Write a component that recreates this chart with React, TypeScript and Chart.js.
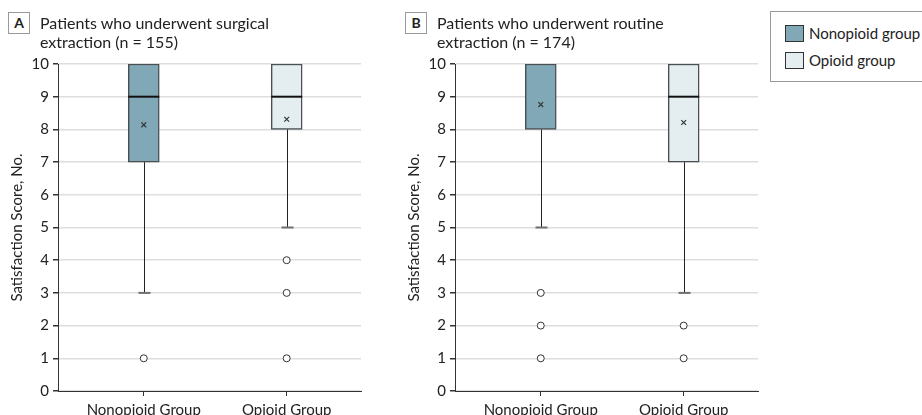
import React, { useEffect, useRef } from "react";
import { Chart, registerables } from "chart.js";

Chart.register(...registerables);

// Category labels and x positions of the two groups
const groups = ["Nonopioid Group", "Opioid Group"];
const groupX = [0, 1];

// Panel A: surgical extraction (n = 155)
const surgicalMin = [3, 5];
const surgicalQ1 = [7, 8];
const surgicalMedian = [9, 9];
const surgicalQ3 = [10, 10];
const surgicalMax = [10, 10];
const surgicalMean = [8.14, 8.31];
const surgicalOutliers = [[1], [4, 3, 1]];

// Panel B: routine extraction (n = 174)
const routineMin = [5, 3];
const routineQ1 = [8, 7];
const routineMedian = [10, 9];
const routineQ3 = [10, 10];
const routineMax = [10, 10];
const routineMean = [8.76, 8.21];
const routineOutliers = [[3, 2, 1], [2, 1]];

const yTicks = [0, 1, 2, 3, 4, 5, 6, 7, 8, 9, 10];

const NONOPIOID_FILL = "#80a8b6";
const OPIOID_FILL = "#e4edf0";
const BOX_BORDER = "#4a4f52";
const FONT = "Lato";

type BoxData = {
  min: number[];
  q1: number[];
  median: number[];
  q3: number[];
  max: number[];
  mean: number[];
  outliers: number[][];
};

const BOX_WIDTH = 31;

function makeConfig(d: BoxData): any {
  const whiskerPlugin = {
    id: "whiskers",
    // whiskers and caps sit behind the boxes
    beforeDatasetsDraw(chart: any) {
      const { ctx, scales } = chart;
      const xs = scales.x;
      const ys = scales.y;
      ctx.save();
      groupX.forEach((gx, i) => {
        const cx = Math.round(xs.getPixelForValue(gx)) + 0.5;
        const segs: [number, number][] = [
          [d.q1[i], d.min[i]],
          [d.q3[i], d.max[i]],
        ];
        segs.forEach(([from, to]) => {
          if (from === to) return;
          const y0 = ys.getPixelForValue(from);
          const y1 = ys.getPixelForValue(to);
          ctx.strokeStyle = "#222";
          ctx.lineWidth = 1;
          ctx.beginPath();
          ctx.moveTo(cx, y0);
          ctx.lineTo(cx, y1);
          ctx.stroke();
          ctx.strokeStyle = "#6f6f6f";
          ctx.lineWidth = 2;
          ctx.beginPath();
          ctx.moveTo(cx - 6, y1);
          ctx.lineTo(cx + 6, y1);
          ctx.stroke();
        });
      });
      ctx.restore();
    },
    // median line drawn over the box, unless it falls on a box edge
    afterDatasetDraw(chart: any, args: any) {
      if (args.index !== 0) return;
      const { ctx, scales } = chart;
      ctx.save();
      ctx.strokeStyle = "#111";
      ctx.lineWidth = 2;
      groupX.forEach((gx, i) => {
        if (d.median[i] === d.q3[i] || d.median[i] === d.q1[i]) return;
        const cx = scales.x.getPixelForValue(gx);
        const y = scales.y.getPixelForValue(d.median[i]);
        ctx.beginPath();
        ctx.moveTo(cx - BOX_WIDTH / 2, y);
        ctx.lineTo(cx + BOX_WIDTH / 2, y);
        ctx.stroke();
      });
      ctx.restore();
    },
  };

  const outlierPoints: { x: number; y: number }[] = [];
  d.outliers.forEach((list, i) => list.forEach((v) => outlierPoints.push({ x: groupX[i], y: v })));

  return {
    type: "bar",
    data: {
      datasets: [
        {
          type: "bar",
          order: 3,
          data: groupX.map((gx, i) => ({ x: gx, y: [d.q1[i], d.q3[i]] })),
          backgroundColor: [NONOPIOID_FILL, OPIOID_FILL],
          borderColor: BOX_BORDER,
          borderWidth: 1.5,
          borderSkipped: false,
          barThickness: BOX_WIDTH,
        },
        {
          type: "scatter",
          order: 1,
          data: groupX.map((gx, i) => ({ x: gx, y: d.mean[i] })),
          pointStyle: "crossRot",
          radius: 3.4,
          borderColor: "#333",
          borderWidth: 1.2,
        },
        {
          type: "scatter",
          order: 2,
          data: outlierPoints,
          pointStyle: "circle",
          radius: 3.5,
          backgroundColor: "#fff",
          borderColor: "#333",
          borderWidth: 1,
        },
      ],
    },
    options: {
      animation: false,
      responsive: false,
      devicePixelRatio: 1,
      events: [],
      layout: { padding: { left: 0, right: 9, top: 64, bottom: 0 } },
      plugins: { legend: { display: false }, tooltip: { enabled: false }, title: { display: false } },
      scales: {
        x: {
          type: "linear",
          offset: false,
          min: -0.6,
          max: 1.52,
          afterBuildTicks(scale: any) {
            scale.ticks = groupX.map((v) => ({ value: v }));
          },
          afterFit(scale: any) {
            scale.height = 24;
          },
          ticks: {
            callback: (v: number) => groups[groupX.indexOf(v)] ?? "",
            color: "#222",
            padding: 5,
            maxRotation: 0,
            autoSkip: false,
            font: { family: FONT, size: 15 },
          },
          grid: { offset: false, drawOnChartArea: false, drawTicks: true, tickLength: 5, tickColor: "#333" },
          border: { display: true, color: "#333", width: 1 },
        },
        y: {
          type: "linear",
          min: 0,
          max: 10,
          afterBuildTicks(scale: any) {
            scale.ticks = yTicks.map((v) => ({ value: v }));
          },
          afterFit(scale: any) {
            scale.width = 58;
          },
          ticks: {
            color: "#222",
            padding: 4,
            font: { family: FONT, size: 15 },
          },
          grid: { color: "#dedede", lineWidth: 1.5, tickColor: "#333", tickLength: 5 },
          border: { display: true, color: "#333", width: 1 },
          title: {
            display: true,
            text: "Satisfaction Score, No.",
            color: "#222",
            font: { family: FONT, size: 15 },
            padding: { top: 8, bottom: 0 },
          },
        },
      },
    },
    plugins: [whiskerPlugin],
  };
}

function Panel({ data, left, letter, line1, line2 }: { data: BoxData; left: number; letter: string; line1: string; line2: string }) {
  const ref = useRef<HTMLCanvasElement>(null);
  useEffect(() => {
    const chart = new Chart(ref.current as HTMLCanvasElement, makeConfig(data));
    return () => chart.destroy();
  }, [data]);
  return (
    <div style={{ position: "absolute", left, top: 0, width: 370, height: 415 }}>
      <canvas ref={ref} width={370} height={415} style={{ position: "absolute", left: 0, top: 0 }} />
      <div
        style={{
          position: "absolute",
          left: 8,
          top: 12,
          width: 20,
          height: 20,
          border: "1px solid #9a9a9a",
          fontFamily: FONT,
          fontWeight: 700,
          fontSize: 14,
          lineHeight: "20px",
          textAlign: "center",
          color: "#222",
          background: "#fff",
        }}
      >
        {letter}
      </div>
      <div
        style={{
          position: "absolute",
          left: 40,
          top: 13,
          fontFamily: FONT,
          fontSize: 16,
          lineHeight: "19px",
          color: "#222",
          whiteSpace: "nowrap",
        }}
      >
        {line1}
        <br />
        {line2}
      </div>
    </div>
  );
}

const surgical: BoxData = {
  min: surgicalMin,
  q1: surgicalQ1,
  median: surgicalMedian,
  q3: surgicalQ3,
  max: surgicalMax,
  mean: surgicalMean,
  outliers: surgicalOutliers,
};

const routine: BoxData = {
  min: routineMin,
  q1: routineQ1,
  median: routineMedian,
  q3: routineQ3,
  max: routineMax,
  mean: routineMean,
  outliers: routineOutliers,
};

function LegendItem({ color, label, top }: { color: string; label: string; top: number }) {
  return (
    <div style={{ position: "absolute", left: 14, top, display: "flex", alignItems: "center" }}>
      <div style={{ width: 17, height: 15, background: color, border: "1px solid #333" }} />
      <span style={{ marginLeft: 5, fontFamily: FONT, fontSize: 15, color: "#222", whiteSpace: "nowrap" }}>{label}</span>
    </div>
  );
}

export default function App() {
  return (
    <div style={{ position: "absolute", left: 0, top: 0, width: 922, height: 415, overflow: "hidden", background: "#fff" }}>
      <Panel data={surgical} left={0} letter="A" line1="Patients who underwent surgical" line2="extraction (n = 155)" />
      <Panel data={routine} left={397} letter="B" line1="Patients who underwent routine" line2="extraction (n = 174)" />
      <div
        style={{
          position: "absolute",
          left: 770,
          top: 11,
          width: 170,
          height: 71,
          border: "1px solid #9a9a9a",
          boxSizing: "border-box",
        }}
      >
        <LegendItem color={NONOPIOID_FILL} label="Nonopioid group" top={12} />
        <LegendItem color={OPIOID_FILL} label="Opioid group" top={39} />
      </div>
    </div>
  );
}
